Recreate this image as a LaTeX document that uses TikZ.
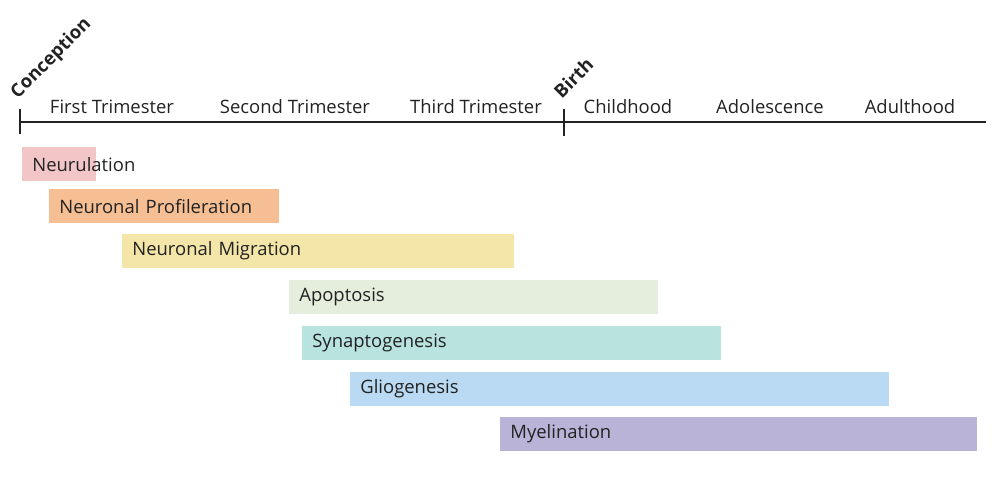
\documentclass[tikz,border=0pt]{standalone}
\usepackage{fontspec}
\setmainfont{Open Sans}
\definecolor{cpink}{HTML}{F2C6C6}
\definecolor{corange}{HTML}{F6BF93}
\definecolor{cyellow}{HTML}{F3E6A8}
\definecolor{cgreen}{HTML}{E5EEDD}
\definecolor{cteal}{HTML}{B8E3DE}
\definecolor{cblue}{HTML}{B9DAF2}
\definecolor{cpurple}{HTML}{B9B3D8}
\definecolor{cline}{HTML}{222222}
\tikzset{
  phase/.style={font=\fontsize{10.5}{12}\selectfont, text=cline},
  event/.style={font=\fontsize{10.5}{12}\selectfont\bfseries, text=cline, rotate=45, anchor=south west},
  bar/.style={fill=#1, draw=none, minimum height=0.67cm, anchor=north west, inner xsep=0.2cm,
    align=left, font=\fontsize{10.5}{12}\selectfont, text=cline}
}
\begin{document}
\begin{tikzpicture}
  \useasboundingbox (0,0) rectangle (20,9.58);
  % timeline
  \coordinate (start) at (0.4,7.14);
  \coordinate (stop) at (19.72,7.14);
  \coordinate (birth) at (11.28,7.14);
  \draw[cline, thick] (start) -- (stop);
  \draw[cline, thick] ([yshift=0.25cm]start) -- ([yshift=-0.25cm]start);
  \draw[cline, thick] ([yshift=0.25cm]birth) -- ([yshift=-0.28cm]birth);
  \node[event] (conc) at (0.42,7.36) {Conception};
  \node[event] (bir) at (11.24,7.42) {Birth};

  \node[phase] (t1) at (2.24,7.44) {First Trimester};
  \node[phase] (t2) at (5.90,7.44) {Second Trimester};
  \node[phase] (t3) at (9.52,7.44) {Third Trimester};
  \node[phase] (ch) at (12.56,7.44) {Childhood};
  \node[phase] (ad) at (15.40,7.44) {Adolescence};
  \node[phase] (ah) at (18.20,7.44) {Adulthood};

  % processes
  \node[bar=cpink,   text width=1.08cm, minimum width=1.48cm] (neu) at (0.44,6.64) {Neurulation};
  \node[bar=corange, text width=4.20cm, minimum width=4.60cm] (pro) at (0.98,5.80) {Neuronal Profileration};
  \node[bar=cyellow, text width=7.44cm, minimum width=7.84cm] (mig) at (2.44,4.90) {Neuronal Migration};
  \node[bar=cgreen,  text width=6.98cm, minimum width=7.38cm] (apo) at (5.78,3.98) {Apoptosis};
  \node[bar=cteal,   text width=7.98cm, minimum width=8.38cm] (syn) at (6.04,3.06) {Synaptogenesis};
  \node[bar=cblue,   text width=10.38cm, minimum width=10.78cm] (gli) at (7.00,2.14) {Gliogenesis};
  \node[bar=cpurple, text width=9.14cm, minimum width=9.54cm] (mye) at (10.00,1.24) {Myelination};
\end{tikzpicture}
\end{document}
